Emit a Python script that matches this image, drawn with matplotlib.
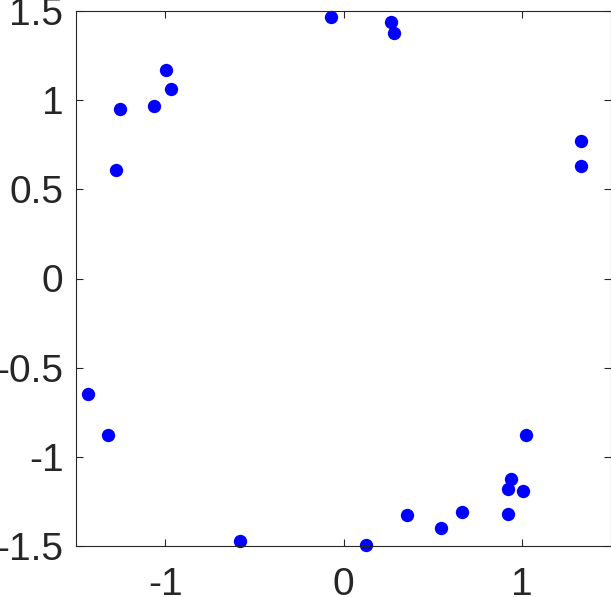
import numpy as np
import matplotlib
matplotlib.use("Agg")
import matplotlib.pyplot as plt

plt.rcParams['font.family'] = ['Liberation Sans', 'DejaVu Sans']

# point coordinates
x_vals = [-0.069, 0.268, 0.285, 1.334, 1.334, -0.996, -0.970, -1.063, -1.256, -1.273,
          -1.434, -1.318, -0.582, 0.127, 0.356, 0.545, 0.665, 0.925, 0.924, 0.938,
          1.006, 1.021]
y_vals = [1.466, 1.437, 1.376, 0.772, 0.630, 1.168, 1.060, 0.970, 0.950, 0.606,
          -0.645, -0.875, -1.471, -1.492, -1.324, -1.400, -1.311, -1.318, -1.180, -1.122,
          -1.189, -0.875]

x_ticks = [-1, 0, 1]
x_labels = ["-1", "0", "1"]
y_ticks = [-1.5, -1, -0.5, 0, 0.5, 1, 1.5]
y_labels = ["-1.5", "-1", "-0.5", "0", "0.5", "1", "1.5"]

fig = plt.figure(figsize=(6.11, 5.97), dpi=100)
ax = fig.add_axes([76 / 611, 51 / 597, 535 / 611, 535 / 597])

ax.plot(x_vals, y_vals, 'o', color='#0000ff', markersize=9.6,
        markeredgewidth=0, clip_on=False)

ax.set_xlim(-1.5, 1.5)
ax.set_ylim(-1.5, 1.5)
ax.set_xticks(x_ticks, x_labels)
ax.set_yticks(y_ticks, y_labels)

grey = '#262626'
for s in ax.spines.values():
    s.set_color(grey)
    s.set_linewidth(0.8)
ax.tick_params(direction='in', length=5, width=0.8, color=grey, labelcolor=grey,
               labelsize=28, top=True, right=True)
ax.tick_params(axis='x', pad=15)
ax.tick_params(axis='y', pad=9)

fig.savefig("out.png", dpi=100)
